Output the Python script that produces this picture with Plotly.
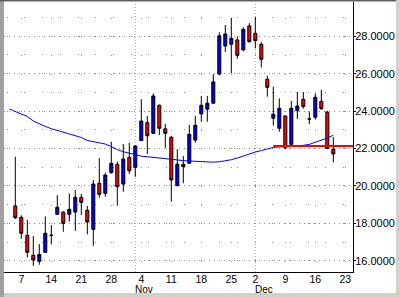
import plotly.graph_objects as go
import pandas as pd

# ---------------- data ----------------
# trading days shown on the axis (weekends and Thanksgiving skipped)
trading_days = [d for d in pd.bdate_range("2002-10-03", "2002-12-23")
                if d != pd.Timestamp("2002-11-28")]
day_str = [d.strftime("%Y-%m-%d") for d in trading_days]
pos = {s: i for i, s in enumerate(day_str)}

candle_dates = day_str[1:55]          # 2002-10-04 .. 2002-12-19

open_ = [18.93, 18.32, 17.36, 16.29, 15.97, 16.45, 17.36, 18.48, 18.60, 18.48,
         18.60, 19.39, 18.70, 17.68, 20.14, 19.60, 20.71, 21.15, 20.10, 21.53,
         20.99, 22.42, 23.38, 22.81, 24.31, 23.05, 22.60, 20.01, 21.16, 21.21,
         22.45, 23.85, 24.10, 24.42, 25.98, 27.48, 27.57, 27.80, 27.27, 28.55,
         28.16, 27.57, 25.70, 23.62, 23.08, 23.74, 22.22, 24.02, 24.63, 23.58,
         23.67, 24.52, 23.94, 21.96]
high = [21.56, 18.43, 18.18, 17.32, 16.89, 18.37, 17.91, 19.51, 18.65, 19.60,
        19.78, 19.57, 18.93, 20.32, 21.48, 20.71, 22.36, 21.29, 22.24, 22.31,
        22.19, 24.64, 23.74, 24.95, 24.35, 23.31, 22.67, 21.96, 21.60, 23.26,
        23.74, 24.81, 24.81, 25.98, 28.21, 28.60, 28.98, 27.98, 28.48, 28.70,
        29.02, 27.68, 25.89, 25.30, 24.68, 23.76, 24.54, 25.02, 25.02, 23.94,
        24.95, 25.14, 24.02, 22.60]
low = [18.23, 17.18, 16.18, 15.73, 15.79, 16.43, 16.88, 18.48, 17.55, 18.09,
       17.60, 18.44, 17.41, 16.80, 19.37, 19.42, 20.65, 18.94, 19.69, 20.64,
       20.49, 22.40, 21.71, 22.78, 22.72, 22.04, 19.16, 20.00, 20.14, 21.20,
       22.31, 23.43, 23.43, 24.40, 25.91, 27.16, 26.02, 26.80, 27.20, 27.66,
       27.36, 26.34, 24.77, 23.22, 22.90, 21.96, 22.13, 23.58, 24.13, 23.31,
       23.55, 24.06, 21.96, 21.26]
close = [18.30, 17.47, 16.45, 16.04, 16.34, 17.47, 17.36, 18.86, 18.00, 18.75,
         19.39, 19.12, 18.07, 20.10, 19.55, 20.58, 21.21, 19.96, 21.44, 20.81,
         22.13, 23.47, 22.68, 24.81, 23.08, 22.81, 20.32, 21.16, 21.03, 22.76,
         23.24, 24.31, 24.42, 25.56, 28.02, 28.12, 27.89, 26.98, 28.37, 27.71,
         27.77, 26.77, 25.27, 23.83, 24.15, 22.04, 24.15, 24.27, 24.24, 23.58,
         24.74, 24.13, 22.01, 21.71]

ma_dates = day_str[0:55]              # 2002-10-03 .. 2002-12-19
moving_avg = [24.11, 23.99, 23.87, 23.71, 23.47, 23.31, 23.18, 23.06, 22.96, 22.88,
              22.78, 22.70, 22.59, 22.43, 22.37, 22.31, 22.24, 22.11, 21.94, 21.83,
              21.74, 21.65, 21.59, 21.56, 21.53, 21.52, 21.48, 21.44, 21.39, 21.35,
              21.33, 21.32, 21.30, 21.28, 21.27, 21.29, 21.33, 21.40, 21.49, 21.61,
              21.71, 21.81, 21.89, 21.98, 22.06, 22.09, 22.11, 22.12, 22.14, 22.17,
              22.22, 22.32, 22.43, 22.56, 22.71]

support_level = 22.13
support_start = "2002-12-05"

tick_dates = ["2002-10-07", "2002-10-14", "2002-10-21", "2002-10-28", "2002-11-04",
              "2002-11-11", "2002-11-18", "2002-11-25", "2002-12-02", "2002-12-09",
              "2002-12-16", "2002-12-23"]
tick_labels = ["7", "14", "21", "28", "4", "11", "18", "25", "2", "9", "16", "23"]
month_starts = ["2002-11-01", "2002-12-02"]
month_labels = ["Nov", "Dec"]

y_ticks = [16, 18, 20, 22, 24, 26, 28]

# ---------------- layout geometry ----------------
W, H = 399, 297
ML, MR, MT, MB = 4, 46, 2, 25
PW, PH = W - ML - MR, H - MT - MB
x_range = [-0.883, 57.28]
y_range = [15.40, 29.83]

def px_x(X):
    return (X - ML) / PW

def px_y(Y):
    return (H - MB - Y) / PH

FONT = "Liberation Sans, Arial, sans-serif"

fig = go.Figure()

fig.add_trace(go.Candlestick(
    x=[pos[d] for d in candle_dates],
    open=open_, high=high, low=low, close=close,
    increasing=dict(line=dict(color="black", width=1), fillcolor="#0000ff"),
    decreasing=dict(line=dict(color="black", width=1), fillcolor="#ff0000"),
    whiskerwidth=0,
    showlegend=False,
    hoverinfo="skip",
))

fig.add_trace(go.Scatter(
    x=[pos[d] for d in ma_dates], y=moving_avg,
    mode="lines", line=dict(color="#0000ff", width=1),
    showlegend=False, hoverinfo="skip",
))

fig.add_trace(go.Scatter(
    x=[pos[support_start], x_range[1]], y=[support_level, support_level],
    mode="lines", line=dict(color="#ff0000", width=2),
    showlegend=False, hoverinfo="skip",
))

shapes = []
# month separator lines
for m in month_starts:
    shapes.append(dict(type="line", xref="x", yref="paper", x0=pos[m], x1=pos[m],
                       y0=0, y1=1, line=dict(color="#a0a0a0", width=1, dash="1px,2px"),
                       layer="below"))
# window frame
shapes += [
    dict(type="rect", xref="paper", yref="paper", x0=px_x(0), x1=px_x(ML), y0=px_y(H), y1=px_y(0),
         fillcolor="#a0a0a0", line=dict(width=0), layer="above"),
    dict(type="rect", xref="paper", yref="paper", x0=px_x(0), x1=px_x(W), y0=px_y(1.5), y1=px_y(0),
         fillcolor="#606060", line=dict(width=0), layer="above"),
    dict(type="rect", xref="paper", yref="paper", x0=px_x(ML), x1=px_x(W), y0=px_y(H), y1=px_y(293),
         fillcolor="#d4d0c8", line=dict(width=0), layer="above"),
    dict(type="rect", xref="paper", yref="paper", x0=px_x(396), x1=px_x(W), y0=px_y(H), y1=px_y(0),
         fillcolor="#d4d0c8", line=dict(width=0), layer="above"),
]

annotations = []
for m, lab in zip(month_starts, month_labels):
    annotations.append(dict(x=pos[m] - 0.35, y=px_y(289), xref="x", yref="paper",
                            text=lab, showarrow=False, xanchor="left", yanchor="middle",
                            font=dict(family=FONT, size=10, color="black")))

fig.update_layout(
    width=W, height=H,
    margin=dict(l=ML, r=MR, t=MT, b=MB, pad=0),
    paper_bgcolor="white", plot_bgcolor="white",
    boxgap=0.28,
    font=dict(family=FONT, size=11, color="black"),
    shapes=shapes, annotations=annotations,
    xaxis=dict(
        range=x_range, rangeslider=dict(visible=False),
        tickmode="array", tickvals=[pos[d] for d in tick_dates], ticktext=tick_labels,
        showgrid=True, gridcolor="#909090", gridwidth=1, griddash="0px,15.5px,1px,2.2px",
        showline=True, linecolor="black", linewidth=1,
        ticks="", zeroline=False, fixedrange=True,
        ticklabelstandoff=-3,
        tickfont=dict(family=FONT, size=10.5, color="black"),
    ),
    yaxis=dict(
        range=y_range, side="right",
        tickmode="array", tickvals=y_ticks, tickformat=".4f",
        showgrid=True, gridcolor="#909090", gridwidth=1, griddash="1px,4px",
        minor=dict(dtick=1, tick0=0, showgrid=True, gridcolor="#909090", gridwidth=1,
                   griddash="0px,2.7px,1px,14px"),
        showline=True, linecolor="black", linewidth=1,
        ticks="outside", ticklen=2, tickcolor="black",
        ticklabelstandoff=-3,
        zeroline=False, fixedrange=True,
        tickfont=dict(family=FONT, size=11, color="black"),
    ),
)

fig.write_html("out.html", config={"displayModeBar": False},
               post_script="document.body.style.margin='0';")
